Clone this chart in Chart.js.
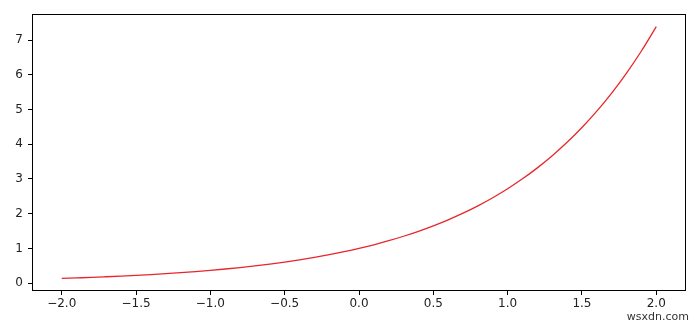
<!DOCTYPE html>
<html><head><meta charset="utf-8">
<script src="https://cdn.jsdelivr.net/npm/chart.js@4/dist/chart.umd.min.js"></script>
<style>html,body{margin:0;padding:0;background:#fff}#wrap{width:700px;height:327px}</style>
</head><body><div id="wrap"><canvas id="c" width="700" height="327"></canvas></div>
<script>
const xValues = [-2.0,-1.9,-1.8,-1.7,-1.6,-1.5,-1.4,-1.3,-1.2,-1.1,-1.0,-0.9,-0.8,-0.7,-0.6,-0.5,-0.4,-0.3,-0.2,-0.1,0.0,0.1,0.2,0.3,0.4,0.5,0.6,0.7,0.8,0.9,1.0,1.1,1.2,1.3,1.4,1.5,1.6,1.7,1.8,1.9,2.0];
const yValues = [0.135,0.150,0.165,0.183,0.202,0.223,0.247,0.273,0.301,0.333,0.368,0.407,0.449,0.497,0.549,0.607,0.670,0.741,0.819,0.905,1.000,1.105,1.221,1.350,1.492,1.649,1.822,2.014,2.226,2.460,2.718,3.004,3.320,3.669,4.055,4.482,4.953,5.474,6.050,6.686,7.389];
const xTicks = [-2.0,-1.5,-1.0,-0.5,0.0,0.5,1.0,1.5,2.0];
const yTicks = [0,1,2,3,4,5,6,7];
const watermark = "wsxdn.com";

const points = xValues.map((x,i)=>({x:x,y:yValues[i]}));
const fmt = v => (v<0?'\u2212':'') + Math.abs(v).toFixed(1);

const boxPlugin = {
  id:'box',
  afterDraw(chart){
    const {ctx, chartArea:a} = chart;
    ctx.save();
    ctx.strokeStyle='#000'; ctx.lineWidth=1;
    ctx.strokeRect(Math.round(a.left)+0.5, Math.round(a.top)+0.5, Math.round(a.right-a.left)-1, Math.round(a.bottom-a.top)-1);
    ctx.fillStyle='#333';
    ctx.font='11px "DejaVu Sans", sans-serif';
    ctx.textAlign='right'; ctx.textBaseline='alphabetic';
    ctx.fillText(watermark, 689, 320);
    ctx.restore();
  }
};

new Chart(document.getElementById('c'), {
  type:'line',
  data:{datasets:[{data:points, borderColor:'#e8262a', borderWidth:1.3, pointRadius:0, fill:false, cubicInterpolationMode:'monotone'}]},
  options:{
    responsive:false, animation:false,
    layout:{padding:{top:14,right:14,left:0,bottom:0}},
    plugins:{legend:{display:false}, tooltip:{enabled:false}},
    scales:{
      x:{type:'linear', min:-2.2, max:2.2,
        afterBuildTicks(s){ s.ticks = xTicks.map(v=>({value:v})); },
        afterFit(s){ s.height = 36; },
        grid:{drawOnChartArea:false, tickLength:4, color:'#000', tickColor:'#000'},
        border:{display:false},
        ticks:{callback:v=>fmt(v), color:'#222', font:{family:'DejaVu Sans', size:12}, padding:2, maxRotation:0, autoSkip:false}
      },
      y:{type:'linear', min:-0.227, max:7.752,
        afterBuildTicks(s){ s.ticks = yTicks.map(v=>({value:v})); },
        afterFit(s){ s.width = 32; },
        grid:{drawOnChartArea:false, tickLength:4, color:'#000', tickColor:'#000'},
        border:{display:false},
        ticks:{callback:v=>String(v), color:'#222', font:{family:'DejaVu Sans', size:12}, padding:5, autoSkip:false}
      }
    }
  },
  plugins:[boxPlugin]
});
</script></body></html>
